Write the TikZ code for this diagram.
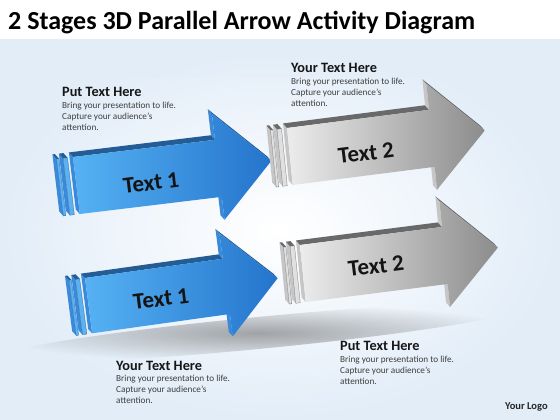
\documentclass[tikz,border=0pt]{standalone}
\usepackage{fontspec}
\setmainfont{Carlito}
\usetikzlibrary{fadings}

\definecolor{bgblue}{RGB}{226,237,248}
\definecolor{bluefrontL}{RGB}{86,178,243}
\definecolor{bluefrontR}{RGB}{36,116,204}
\definecolor{bluetop}{RGB}{36,92,150}
\definecolor{blueside}{RGB}{58,138,220}
\definecolor{bluestripe}{RGB}{92,178,240}
\definecolor{grayfrontL}{RGB}{236,236,236}
\definecolor{grayfrontR}{RGB}{140,140,140}
\definecolor{graytop}{RGB}{105,105,105}
\definecolor{grayside}{RGB}{198,198,198}
\definecolor{graystripe}{RGB}{224,224,224}
\definecolor{headcol}{RGB}{22,22,22}
\definecolor{bodycol}{RGB}{62,62,62}

\tikzfading[name=softshadow, inner color=transparent!0, outer color=transparent!100]
\tikzfading[name=fadedown, top color=transparent!0, bottom color=transparent!100]

\newcommand\hdfont{\color{headcol}\bfseries\fontsize{14.3}{16}\selectfont}

\tikzset{
  arrowtext/.style={font=\bfseries\fontsize{23}{23}\selectfont, text=black!92, rotate=7, inner sep=0pt},
  blocktext/.style={anchor=base west, inner sep=0pt, text=bodycol, font=\fontsize{9.2}{11}\selectfont},
}

% #1 origin, #2 slope, #3 minus lean, #4 scale, #5 colour prefix
\newcommand\tdarrow[5]{%
\begin{scope}[shift={(#1)}, scale=#4, cm={1,#2,#3,1,(0,0)}]
  \foreach \s/\t in {-16.5/2.5,-10/4.5}{
    \fill[#5side] (\s,0) -- (\s,-57) -- (\s-3.5,-52) -- (\s-3.5,5) -- cycle;
    \fill[#5top] (\s,0) -- (\s+\t,0) -- (\s+\t-3.5,5) -- (\s-3.5,5) -- cycle;
    \fill[#5stripe] (\s,0) rectangle (\s+\t,-57);
    \draw[#5top, line width=0.25pt] (\s,0) rectangle (\s+\t,-57);
  }
  \fill[#5side] (0,0) -- (0,-57) -- (-3.5,-52) -- (-3.5,5) -- cycle;
  \fill[#5top] (0,0) -- (142,0) -- (138.5,5) -- (-3.5,5) -- cycle;
  \fill[#5side] (142,0) -- (142,26) -- (138.5,31) -- (138.5,5) -- cycle;
  \fill[#5top] (142,26) -- (195,-27.5) -- (191.5,-22.5) -- (138.5,31) -- cycle;
  \fill[#5side] (142,-57) -- (142,-80) -- (138.5,-75) -- (138.5,-52) -- cycle;
  \shade[left color=#5frontL, right color=#5frontR]
    (0,0) -- (142,0) -- (142,26) -- (195,-27.5) -- (142,-80) -- (142,-57) -- (0,-57) -- cycle;
\end{scope}}

\begin{document}
\begin{tikzpicture}[x=1pt,y=1pt]
\useasboundingbox (0,0) rectangle (560,-420);
% background
\fill[white] (0,0) rectangle (560,-420);
\shade[inner color=white, outer color=bgblue] (0,-40) rectangle (560,-420);
\fill[bgblue, path fading=fadedown] (0,-40) rectangle (560,-78);

% shadow under the lower arrows
\begin{scope}[shift={(258,-333)}, rotate=5.5]
  \fill[black!75, opacity=0.45, path fading=softshadow] (0,0) ellipse [x radius=265pt, y radius=16pt];
\end{scope}

% arrows
\tdarrow{73,-157}{0.121}{-0.12}{1}{blue}
\tdarrow{287,-128}{0.128}{-0.10}{1}{gray}
\tdarrow{85,-278}{0.14}{-0.13}{0.97}{blue}
\tdarrow{300,-245}{0.127}{-0.10}{1}{gray}

% arrow labels
\node[arrowtext] (t1a) at (151,-183) {Text 1};
\node[arrowtext] (t2a) at (366,-153) {Text 2};
\node[arrowtext] (t1b) at (161,-299) {Text 1};
\node[arrowtext] (t2b) at (376,-266) {Text 2};

% title and logo
\node[anchor=base west, inner sep=0pt, text=black, font=\bfseries\fontsize{26}{26}\selectfont] (title) at (8,-30) {2 Stages 3D Parallel Arrow Activity Diagram};
\node[anchor=base west, inner sep=0pt, text=black!85, font=\bfseries\fontsize{10.5}{12}\selectfont] (logo) at (505,-409) {Your Logo};

% text blocks
\node[blocktext] (b1) at (62,-96) {\begin{tabular}[t]{@{}l@{}}{\hdfont Put Text Here}\\[1pt]Bring your presentation to life.\\Capture your audience’s\\attention.\end{tabular}};
\node[blocktext] (b2) at (291,-72.5) {\begin{tabular}[t]{@{}l@{}}{\hdfont Your Text Here}\\[1.5pt]Bring your presentation to life.\\Capture your audience’s\\attention.\end{tabular}};
\node[blocktext] (b3) at (116,-370) {\begin{tabular}[t]{@{}l@{}}{\hdfont Your Text Here}\\[0.7pt]Bring your presentation to life.\\Capture your audience’s\\attention.\end{tabular}};
\node[blocktext] (b4) at (340,-350.5) {\begin{tabular}[t]{@{}l@{}}{\hdfont Put Text Here}\\[0.7pt]Bring your presentation to life.\\Capture your audience’s\\attention.\end{tabular}};
\end{tikzpicture}
\end{document}
